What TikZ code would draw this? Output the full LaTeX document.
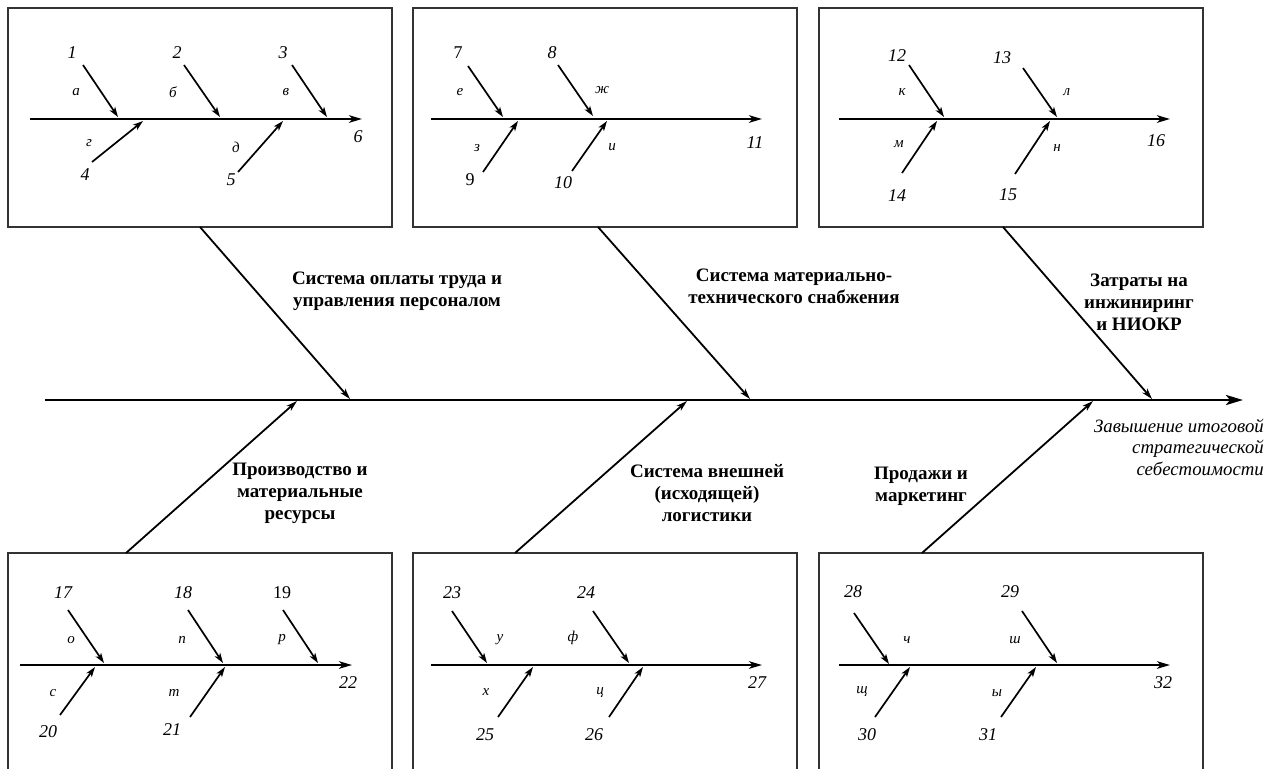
\documentclass[tikz,border=0pt]{standalone}
\usepackage{fontspec}
\setmainfont{Liberation Serif}
\usetikzlibrary{arrows.meta}
\newcommand{\fbarrow}[5]{%
  \coordinate (#1s) at (#2,#3);
  \coordinate (#1e) at (#4,#5);
  \draw[smallarr] (#1s) -- (#1e);}
\newcommand{\fbbone}[5]{%
  \coordinate (#1s) at (#2,#3);
  \coordinate (#1e) at (#4,#5);
  \draw[bonearr] (#1s) -- (#1e);}
\newcommand{\fbspine}[4]{%
  \coordinate (#1s) at (#2,#3);
  \coordinate (#1e) at (#4,#3);
  \draw[spinearr] (#1s) -- (#1e);}
\begin{document}
\begin{tikzpicture}[x=1pt,y=-1pt,
  boxline/.style={draw=black!80,line width=1.4pt},
  smallarr/.style={line width=1.7pt,-{Stealth[length=10pt,width=6.5pt,inset=2.5pt]}},
  bonearr/.style={line width=1.8pt,-{Stealth[length=11pt,width=6.5pt,inset=3pt]}},
  spinearr/.style={line width=2.3pt,-{Stealth[length=13pt,width=7.5pt,inset=3.5pt]}},
  mainarr/.style={line width=2.7pt,-{Stealth[length=17pt,width=10pt,inset=4pt]}},
  num/.style={font=\fontsize{18}{18}\selectfont\itshape,inner sep=0pt},
  numup/.style={font=\fontsize{18}{18}\selectfont,inner sep=0pt},
  let/.style={font=\fontsize{15}{15}\selectfont\itshape,inner sep=0pt},
  cat/.style={font=\fontsize{19}{22}\selectfont\bfseries,align=center,inner sep=0pt},
  eff/.style={font=\fontsize{18.8}{21.5}\selectfont\itshape,align=right,inner sep=0pt}]
\useasboundingbox (0,0) rectangle (1273,769);

% boxes
\draw[boxline] (8,8) rectangle (392,227);
\draw[boxline] (413,8) rectangle (797,227);
\draw[boxline] (819,8) rectangle (1203,227);
\draw[boxline] (8,769) -- (8,553) -- (392,553) -- (392,769);
\draw[boxline] (413,769) -- (413,553) -- (797,553) -- (797,769);
\draw[boxline] (819,769) -- (819,553) -- (1203,553) -- (1203,769);

% main spine and bones
\coordinate (ms) at (45,400);
\coordinate (me) at (1243,400);
\draw[mainarr] (ms) -- (me);
\fbbone{T1}{200}{227}{350}{399}
\fbbone{T2}{598}{227}{750}{399}
\fbbone{T3}{1003}{227}{1152}{399}
\fbbone{D1}{126}{553}{297}{401}
\fbbone{D2}{515}{553}{687}{401}
\fbbone{D3}{922}{553}{1093}{401}

% category labels
\node[cat] (c1) at (397,291) {Система оплаты труда и\\управления персоналом};
\node[cat] (c2) at (794,286) {Система материально-\\технического снабжения};
\node[cat] (c3) at (1139,302) {Затраты на\\инжиниринг\\и НИОКР};
\node[cat] (c4) at (300,493) {Производство и\\материальные\\ресурсы};
\node[cat] (c5) at (707,493) {Система внешней\\(исходящей)\\логистики};
\node[cat] (c6) at (921,486) {Продажи и\\маркетинг};
\node[eff,anchor=east] (eff) at (1264,447) {Завышение итоговой\\стратегической\\себестоимости};

% ---- box 1
\fbspine{S1}{30}{119}{362}
\fbarrow{a1}{83}{65}{118}{117}
\fbarrow{a2}{184}{65}{220}{117}
\fbarrow{a3}{292}{65}{327}{117}
\fbarrow{a4}{92}{162}{143}{121}
\fbarrow{a5}{238}{172}{283}{121}
\node[num] (n1) at (72,53) {1};
\node[num] (n2) at (177,53) {2};
\node[num] (n3) at (283,53) {3};
\node[num] (n4) at (85,175) {4};
\node[num] (n5) at (231,180) {5};
\node[num] (n6) at (358,137) {6};
\node[let] (l1) at (76,92) {а};
\node[let] (l2) at (173,92) {б};
\node[let] (l3) at (286,92) {в};
\node[let] (l4) at (89,143) {г};
\node[let] (l5) at (236,147) {д};

% ---- box 2
\fbspine{S2}{431}{119}{762}
\fbarrow{a7}{468}{66}{503}{117}
\fbarrow{a8}{558}{65}{593}{116}
\fbarrow{a9}{483}{172}{518}{121}
\fbarrow{a10}{572}{171}{607}{121}
\node[numup] (n7) at (458,53) {7};
\node[num] (n8) at (552,53) {8};
\node[numup] (n9) at (470,180) {9};
\node[num] (n10) at (563,183) {10};
\node[num] (n11) at (755,143) {11};
\node[let] (l7) at (460,92) {е};
\node[let] (l8) at (602,90) {ж};
\node[let] (l9) at (477,148) {з};
\node[let] (l10) at (612,147) {и};

% ---- box 3
\fbspine{S3}{839}{119}{1170}
\fbarrow{a12}{909}{65}{944}{117}
\fbarrow{a13}{1023}{68}{1057}{117}
\fbarrow{a14}{902}{173}{937}{121}
\fbarrow{a15}{1015}{174}{1050}{121}
\node[num] (n12) at (897,56) {12};
\node[num] (n13) at (1002,58) {13};
\node[num] (n14) at (897,196) {14};
\node[num] (n15) at (1008,195) {15};
\node[num] (n16) at (1156,141) {16};
\node[let] (l12) at (902,92) {к};
\node[let] (l13) at (1067,92) {л};
\node[let] (l14) at (899,144) {м};
\node[let] (l15) at (1057,148) {н};

% ---- box 4
\fbspine{S4}{20}{665}{352}
\fbarrow{a17}{68}{610}{104}{663}
\fbarrow{a18}{188}{610}{223}{663}
\fbarrow{a19}{283}{610}{318}{663}
\fbarrow{a20}{60}{715}{95}{667}
\fbarrow{a21}{190}{717}{225}{667}
\node[num] (n17) at (63,593) {17};
\node[num] (n18) at (183,593) {18};
\node[numup] (n19) at (282,593) {19};
\node[num] (n20) at (48,732) {20};
\node[num] (n21) at (172,730) {21};
\node[num] (n22) at (348,683) {22};
\node[let] (l17) at (71,640) {о};
\node[let] (l18) at (182,640) {п};
\node[let] (l19) at (282,640) {р};
\node[let] (l20) at (53,693) {с};
\node[let] (l21) at (174,693) {т};

% ---- box 5
\fbspine{S5}{431}{665}{762}
\fbarrow{a23}{452}{611}{487}{663}
\fbarrow{a24}{593}{611}{629}{663}
\fbarrow{a25}{498}{717}{533}{667}
\fbarrow{a26}{609}{717}{643}{667}
\node[num] (n23) at (452,593) {23};
\node[num] (n24) at (586,593) {24};
\node[num] (n25) at (485,735) {25};
\node[num] (n26) at (594,735) {26};
\node[num] (n27) at (757,683) {27};
\node[let] (l23) at (500,640) {у};
\node[let] (l24) at (573,638) {ф};
\node[let] (l25) at (486,692) {х};
\node[let] (l26) at (600,693) {ц};

% ---- box 6
\fbspine{S6}{839}{665}{1170}
\fbarrow{a28}{854}{613}{889}{664}
\fbarrow{a29}{1022}{611}{1057}{663}
\fbarrow{a30}{875}{717}{910}{667}
\fbarrow{a31}{1001}{717}{1036}{667}
\node[num] (n28) at (853,592) {28};
\node[num] (n29) at (1010,592) {29};
\node[num] (n30) at (867,735) {30};
\node[num] (n31) at (988,735) {31};
\node[num] (n32) at (1163,683) {32};
\node[let] (l28) at (907,640) {ч};
\node[let] (l29) at (1015,640) {ш};
\node[let] (l30) at (862,692) {щ};
\node[let] (l31) at (997,693) {ы};
\end{tikzpicture}
\end{document}
